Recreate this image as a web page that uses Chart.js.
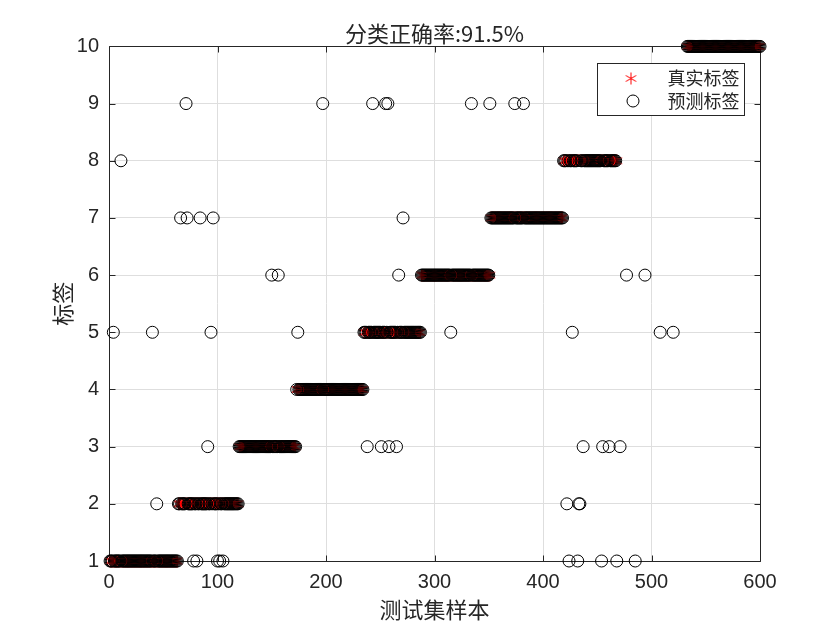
<!DOCTYPE html>
<html><head><meta charset="utf-8">
<script src="https://cdn.jsdelivr.net/npm/chart.js@4/dist/chart.umd.min.js"></script>
<style>html,body{margin:0;padding:0;background:#fff}canvas{display:block}</style>
</head><body>
<canvas id="c" width="840" height="630"></canvas>
<script>
// ---- data ----
const classLabels = [1, 2, 3, 4, 5, 6, 7, 8, 10];
const classStart  = [1, 64, 120, 173, 235, 288, 352, 419, 533];
const classEnd    = [63, 119, 172, 234, 287, 351, 418, 468, 600];
// misclassified samples: index -> predicted label
const errIndex = [78, 81, 100, 102, 105, 424, 432, 454, 468, 485,
                  44, 422, 433, 434,
                  91, 238, 251, 258, 265, 437, 455, 461, 471,
                  4, 40, 94, 174, 315, 427, 508, 520,
                  150, 156, 267, 477, 494,
                  66, 72, 84, 96, 271,
                  11,
                  71, 197, 243, 255, 257, 334, 351, 374, 382];
const errPred  = [1, 1, 1, 1, 1, 1, 1, 1, 1, 1,
                  2, 2, 2, 2,
                  3, 3, 3, 3, 3, 3, 3, 3, 3,
                  5, 5, 5, 5, 5, 5, 5, 5,
                  6, 6, 6, 6, 6,
                  7, 7, 7, 7, 7,
                  8,
                  9, 9, 9, 9, 9, 9, 9, 9, 9];
const xTicks = [0, 100, 200, 300, 400, 500, 600];
const yTicks = [1, 2, 3, 4, 5, 6, 7, 8, 9, 10];
const titleText = '分类正确率:91.5%';
const seriesNames = ['真实标签', '预测标签'];

// ---- build series ----
const trueData = [];
classLabels.forEach((lab, k) => {
  for (let i = classStart[k]; i <= classEnd[k]; i++) trueData.push({x: i, y: lab});
});
const errMap = new Map();
errIndex.forEach((ix, k) => errMap.set(ix, errPred[k]));
const predData = trueData.map(p => ({x: p.x, y: errMap.has(p.x) ? errMap.get(p.x) : p.y}));
const trueIdx = new Set(trueData.map(p => p.x));
errIndex.forEach((ix, k) => { if (!trueIdx.has(ix)) predData.push({x: ix, y: errPred[k]}); });
predData.sort((a, b) => a.x - b.x);

// ---- marker ----
function makeAsterisk(size, color) {
  const c = document.createElement('canvas');
  c.width = size; c.height = size;
  const g = c.getContext('2d');
  g.strokeStyle = color; g.lineWidth = 1;
  const cx = size / 2, cy = size / 2, r = size / 2 - 0.5;
  g.beginPath();
  [90, 30, -30].forEach(a => {
    const t = a * Math.PI / 180;
    g.moveTo(cx + r * Math.cos(t), cy - r * Math.sin(t));
    g.lineTo(cx - r * Math.cos(t), cy + r * Math.sin(t));
  });
  g.stroke();
  return c;
}
const asterisk = makeAsterisk(13, '#ff0000');

const FONT = "'Liberation Sans', Arial, 'Noto Sans CJK SC', sans-serif";
const CJK = "'Noto Sans CJK SC', 'Liberation Sans', sans-serif";
const AX = '#262626';

const framePlugin = {
  id: 'frame',
  beforeDatasetsDraw(chart) {
    const {ctx, chartArea: a, scales: {x, y}} = chart;
    ctx.save();
    ctx.strokeStyle = AX; ctx.lineWidth = 1;
    const L = Math.round(a.left) + 0.5, R = Math.round(a.right) + 0.5;
    const T = Math.round(a.top) + 0.5, B = Math.round(a.bottom) + 0.5;
    ctx.beginPath();
    ctx.rect(L, T, R - L, B - T);
    const tl = 6;
    xTicks.forEach(v => {
      const px = Math.round(x.getPixelForValue(v)) + 0.5;
      ctx.moveTo(px, B); ctx.lineTo(px, B - tl);
      ctx.moveTo(px, T); ctx.lineTo(px, T + tl);
    });
    yTicks.forEach(v => {
      const py = Math.round(y.getPixelForValue(v)) + 0.5;
      ctx.moveTo(L, py); ctx.lineTo(L + tl, py);
      ctx.moveTo(R, py); ctx.lineTo(R - tl, py);
    });
    ctx.stroke();
    ctx.restore();
  },
  afterDraw(chart) {
    const {ctx, chartArea: a} = chart;
    ctx.save();
    const w = 147, h = 52;
    const bx = Math.round(a.right) - 16 - w + 0.5, by = Math.round(a.top) + 17 + 0.5;
    ctx.fillStyle = '#fff';
    ctx.fillRect(bx, by, w, h);
    ctx.strokeStyle = AX; ctx.lineWidth = 1;
    ctx.strokeRect(bx, by, w, h);
    const y1 = by + 15, y2 = by + 37.5;
    ctx.drawImage(asterisk, bx + 33.5 - 6.5, y1 - 6.5);
    ctx.beginPath();
    ctx.strokeStyle = '#000';
    ctx.arc(bx + 35.5, y2, 6, 0, Math.PI * 2);
    ctx.stroke();
    ctx.fillStyle = AX;
    ctx.font = "18px " + CJK;
    ctx.textBaseline = 'middle';
    ctx.textAlign = 'left';
    ctx.fillText(chart.data.datasets[0].label, bx + 70, y1);
    ctx.fillText(chart.data.datasets[1].label, bx + 70, y2);
    ctx.restore();
  }
};

new Chart(document.getElementById('c'), {
  type: 'scatter',
  data: {
    datasets: [
      {label: seriesNames[0], data: trueData, pointStyle: asterisk, pointRadius: 6,
       borderColor: '#ff0000', backgroundColor: '#ff0000', order: 2, clip: false},
      {label: seriesNames[1], data: predData, pointStyle: 'circle', pointRadius: 6,
       pointBorderWidth: 1, borderColor: '#000', pointBorderColor: '#000',
       backgroundColor: 'rgba(0,0,0,0)', pointBackgroundColor: 'rgba(0,0,0,0)', order: 1, clip: false}
    ]
  },
  options: {
    responsive: false,
    animation: false,
    events: [],
    layout: {padding: {left: 40, right: 80, top: 0, bottom: 0}},
    plugins: {
      legend: {display: false},
      tooltip: {enabled: false},
      title: {display: true, text: titleText, fullSize: false, color: AX,
              font: {family: CJK, size: 22, weight: 'normal'}, padding: {top: 20, bottom: 0}}
    },
    scales: {
      x: {
        type: 'linear', position: 'bottom', min: 0, max: 600,
        afterBuildTicks: s => { s.ticks = xTicks.map(v => ({value: v})); },
        grid: {color: '#dedede', drawTicks: false, lineWidth: 1},
        border: {display: false},
        ticks: {color: AX, font: {family: FONT, size: 20}, padding: 9, maxRotation: 0, autoSkip: false},
        title: {display: true, text: '测试集样本', color: AX, font: {family: CJK, size: 22}, padding: {top: 0, bottom: 7}},
        afterFit: s => { s.height = 69; }
      },
      y: {
        type: 'linear', position: 'left', min: 1, max: 10,
        afterBuildTicks: s => { s.ticks = yTicks.map(v => ({value: v})); },
        grid: {color: '#dedede', drawTicks: false, lineWidth: 1},
        border: {display: false},
        ticks: {color: AX, font: {family: FONT, size: 20}, padding: 10, autoSkip: false},
        title: {display: true, text: '标签', color: AX, font: {family: CJK, size: 22}, padding: {top: 9, bottom: 0}},
        afterFit: s => { s.width = 69; }
      }
    }
  },
  plugins: [framePlugin]
});
</script>
</body></html>
